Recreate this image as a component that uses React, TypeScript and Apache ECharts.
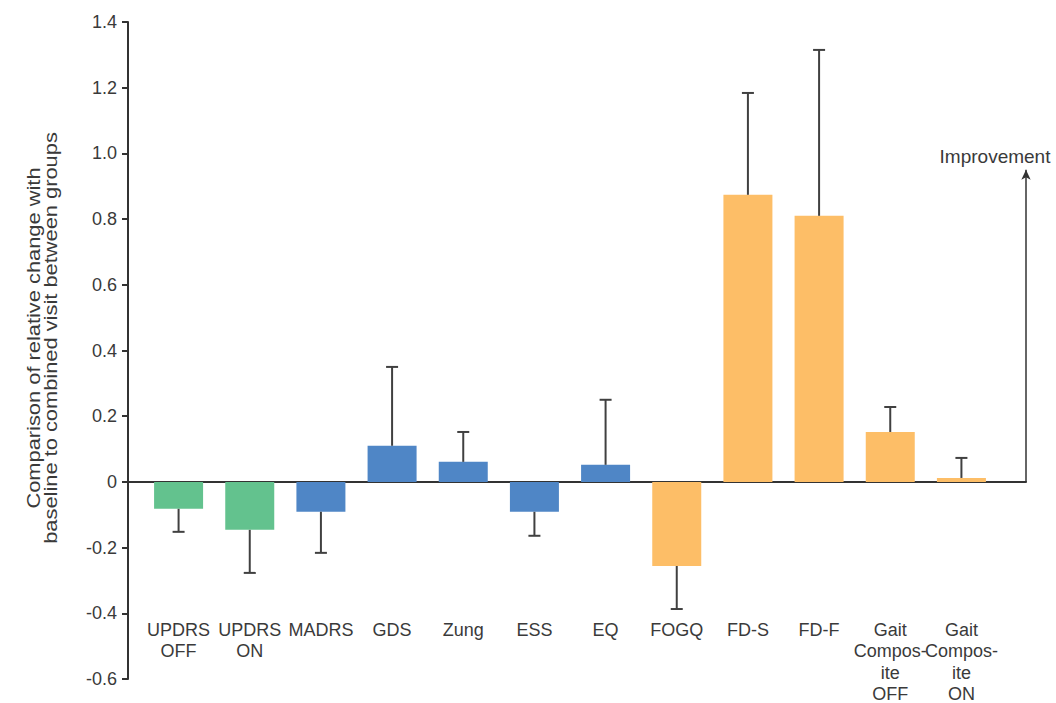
import React, { useEffect, useRef } from "react";
import * as echarts from "echarts";

const categories = [
  "UPDRS\nOFF",
  "UPDRS\nON",
  "MADRS",
  "GDS",
  "Zung",
  "ESS",
  "EQ",
  "FOGQ",
  "FD-S",
  "FD-F",
  "Gait\nCompos-\nite\nOFF",
  "Gait\nCompos-\nite\nON",
];
const values = [-0.082, -0.146, -0.091, 0.11, 0.061, -0.091, 0.052, -0.256, 0.874, 0.81, 0.152, 0.012];
const errorEnds = [-0.152, -0.277, -0.216, 0.35, 0.152, -0.164, 0.25, -0.387, 1.184, 1.315, 0.228, 0.073];
const groups = ["motor", "motor", "mood", "mood", "mood", "mood", "mood", "gait", "gait", "gait", "gait", "gait"];
const groupColors: Record<string, string> = { motor: "#63c28e", mood: "#4f86c6", gait: "#fdbe67" };
const yTicks = { min: -0.6, max: 1.4, interval: 0.2 };
const arrowTop = 0.95;
const yTitle = "Comparison of relative change with\nbaseline to combined visit between groups";
const arrowLabel = "Improvement";

export default function App() {
  const ref = useRef<HTMLDivElement>(null);
  useEffect(() => {
    if (!ref.current) return;
    const chart = echarts.init(ref.current, undefined, { renderer: "svg" });
    const font = "Liberation Sans, Arial, Helvetica, sans-serif";
    chart.setOption({
      animation: false,
      backgroundColor: "#ffffff",
      grid: [
        { left: 143, width: 854, top: 22, height: 657, outerBoundsMode: "none", containLabel: false },
        { left: 128, width: 898, top: 22, height: 657, outerBoundsMode: "none", containLabel: false },
      ],
      xAxis: [
        {
          type: "category",
          gridIndex: 0,
          data: categories,
          offset: -60,
          axisLine: { show: false },
          axisTick: { show: false },
          axisLabel: {
            interval: 0,
            margin: 0,
            color: "#3a3a3a",
            fontSize: 18,
            fontFamily: font,
            lineHeight: 21.5,
            verticalAlign: "top",
          },
        },
        {
          type: "value",
          gridIndex: 1,
          min: 0,
          max: 1,
          axisLine: { show: true, onZero: true, lineStyle: { color: "#333", width: 2 } },
          axisTick: { show: false },
          axisLabel: { show: false },
          splitLine: { show: false },
        },
      ],
      yAxis: [
        {
          type: "value",
          gridIndex: 0,
          min: yTicks.min,
          max: yTicks.max,
          interval: yTicks.interval,
          offset: 15,
          axisLine: { show: true, lineStyle: { color: "#333", width: 2 } },
          axisTick: { show: true, length: 6, lineStyle: { color: "#333", width: 2 } },
          splitLine: { show: false },
          axisLabel: {
            color: "#3a3a3a",
            fontSize: 18,
            fontFamily: font,
            margin: 11,
            formatter: (v: number) => (Math.abs(v) < 1e-9 ? "0" : v.toFixed(1)),
          },
        },
        {
          type: "value",
          gridIndex: 1,
          min: yTicks.min,
          max: yTicks.max,
          show: false,
        },
      ],
      series: [
        {
          type: "bar",
          xAxisIndex: 0,
          yAxisIndex: 0,
          barWidth: 49,
          data: values.map((v, i) => ({ value: v, itemStyle: { color: groupColors[groups[i]] } })),
          z: 2,
        },
        {
          type: "custom",
          xAxisIndex: 0,
          yAxisIndex: 0,
          data: values.map((v, i) => [i, v, errorEnds[i]]),
          z: 3,
          renderItem: (params: any, api: any) => {
            const start = api.coord([api.value(0), api.value(1)]);
            const end = api.coord([api.value(0), api.value(2)]);
            const cap = 6;
            const style = { stroke: "#404040", lineWidth: 2 };
            return {
              type: "group",
              children: [
                { type: "line", shape: { x1: start[0], y1: start[1], x2: end[0], y2: end[1] }, style },
                { type: "line", shape: { x1: end[0] - cap, y1: end[1], x2: end[0] + cap, y2: end[1] }, style },
              ],
            };
          },
        },
        {
          type: "line",
          xAxisIndex: 1,
          yAxisIndex: 1,
          data: [],
          markLine: {
            silent: true,
            symbol: ["none", "arrow"],
            symbolSize: [7, 10],
            lineStyle: { color: "#333", width: 1.5, type: "solid" },
            label: { show: false },
            data: [[{ coord: [1, 0] }, { coord: [1, arrowTop] }]],
          },
        },
      ],
      graphic: [
        {
          type: "text",
          x: 42,
          y: 338,
          rotation: Math.PI / 2,
          scaleX: 1.15,
          style: {
            text: yTitle,
            fill: "#3a3a3a",
            fontSize: 19,
            fontFamily: font,
            align: "center",
            verticalAlign: "middle",
            lineHeight: 17,
          },
        },
        {
          type: "text",
          x: 995,
          y: 156,
          style: {
            text: arrowLabel,
            fill: "#3a3a3a",
            fontSize: 19,
            fontFamily: font,
            align: "center",
            verticalAlign: "middle",
          },
        },
      ],
    });
    return () => chart.dispose();
  }, []);
  return <div ref={ref} style={{ position: "absolute", left: 0, top: 0, width: 1056, height: 703 }} />;
}
